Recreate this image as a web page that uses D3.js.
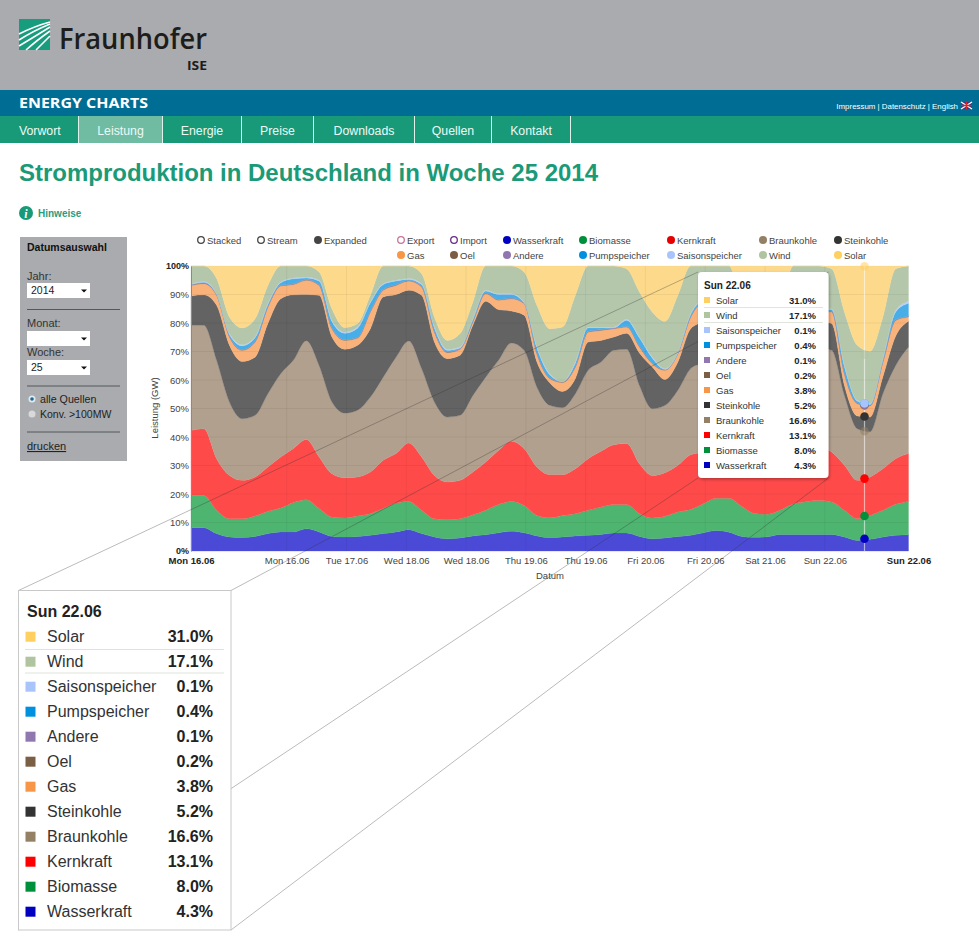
<!DOCTYPE html>
<html><head><meta charset="utf-8"><title>Stromproduktion in Deutschland in Woche 25 2014</title>
<script src="https://cdn.jsdelivr.net/npm/d3@7/dist/d3.min.js"></script>
<style>html,body{margin:0;padding:0;background:#fff;overflow:hidden}svg{display:block;font-family:"Liberation Sans",Arial,sans-serif}
.axis text{font-family:"Liberation Sans",Arial,sans-serif;font-size:9.5px;fill:#444}.axis .domain{stroke:#8a8a8a}.axis line{stroke:none}</style>
</head><body><svg id="c" width="979" height="950"></svg>
<script>
// time of every sample: hours since Mon 16.06 00:00, one every 3 hours (0..168)
const sampleHours=[0,3,6,9,12,15,18,21,24,27,30,33,36,39,42,45,48,51,54,57,60,63,66,69,72,75,78,81,84,87,90,93,96,99,102,105,108,111,114,117,120,123,126,129,132,135,138,141,144,147,150,153,156,159,162,165,168];
// upper edge of each stacked band, in percent
const wasserTop=[8.2,8.2,6.1,4.9,4.7,5.1,6.1,6.7,6.7,7.8,6.7,5.1,4.9,5.1,5.5,6.1,6.7,7.5,6.1,4.9,4.3,4.6,5.3,5.7,6.4,6.9,6.4,5.3,4.7,4.9,5.3,5.5,5.8,6.3,6.3,5.1,4.3,4.6,5.1,5.5,6.4,7.2,6.6,5.1,4.8,5.0,5.8,5.8,5.8,5.8,5.8,4.9,3.7,4.1,4.9,5.5,5.7];
const biomasseTop=[19.5,19.5,14.3,11.3,11.3,12.3,13.9,15.1,17,18,14.9,11.9,11.6,12.3,13.1,14.9,16.8,17.4,14.3,11.3,11,11.3,12.7,14.3,16.3,17.4,16,12.5,11.7,12.5,13.1,14.3,15.4,16.3,16.3,13.1,11.6,12.2,13.7,14.6,16.6,18.5,18.5,15.6,13.2,12.9,14.4,16.5,17.3,17.7,17.2,14.3,11.3,12.5,14.3,16.4,17.4];
const kernkraftTop=[42.3,42.9,32.4,26.5,24.8,26,29.5,33,36,39.1,33,27.1,25.7,26,27.7,31.8,34.2,37.9,33,26.5,24.2,24.8,27.7,31.2,35.3,38.5,35.9,29.5,26.8,26.8,28.9,32.4,35,37.3,37.7,30.6,26.5,27.5,30.1,33.8,34.7,37.2,37.8,33.7,28.4,27.3,30.2,33.7,35.4,36.5,34.7,30.1,24.8,26,28.9,32.4,34.2];
const braunkohleTop=[79.2,79.2,66.9,52.3,46.4,47.6,55.2,62.2,67,73.8,65.1,52.3,48.4,49.4,54,61,68,73.7,64,52.3,47,47.6,54.6,61,66.9,73,70.4,57.5,51.1,50.3,55.2,63.4,66.3,70.4,70.8,58.1,49.9,51.1,56.4,64,66.3,71.1,71,61.8,51.2,47.7,55.9,65.3,68.8,71.1,70.4,54.6,42.9,41.8,55.2,65.1,71.6];
const steinkohleTop=[89.5,89.9,86.2,72.2,66.5,68,79.8,88.5,89.9,90,89.7,75.1,70.8,72.2,78,89.1,90,91.5,89.7,73.3,67.5,68.7,79.2,87.6,84.7,84.2,82.7,66.3,59,56,60.5,73.3,73.9,75.1,76.4,69.5,64.6,60.2,66.3,78,80.4,82.2,85,84,82.8,80.5,79.3,78.1,79.3,80.5,79.8,58.1,47.4,47,61.1,75.4,80.6];
const gasTop=[93.2,93.8,89.7,75.1,70.4,73.3,85.6,93,93.5,95,93.2,78,73.9,74.7,83.9,91.5,93.2,94.7,92.6,76.8,69.6,70.8,80.4,90.3,88,88.5,86.8,69.2,60.5,59.1,64.6,76.8,77.4,78,78.6,71.6,65.7,63.4,69.2,82.1,86.8,86.3,88,87,85.5,85,83.4,82.8,83.4,84,83.9,62.2,51.7,50.9,66.3,80.9,82.1];
const saisonTop=[93.8,94.6,90.3,76.3,72.4,75.1,86.8,94.4,95.8,96.1,95,80.9,76.8,78.6,87.4,93.8,95,95.6,93.8,78.6,70.8,71.6,81.5,91.5,90.3,90.3,87.4,71.6,62.2,59.5,66.3,78.6,78.6,78.6,81.3,75.1,68.1,64,69.8,83.3,88,87.5,89,88,86.5,86,84.4,83.8,84.4,85,85,65.1,52.9,51.7,67.5,84.4,87.6];
const windTop=[100,100,95.6,82.1,78.3,81.5,93.2,100,100,100,97.9,85,78.4,79.8,89.7,100,100,100,97.3,82.1,73.9,76.3,87.4,100,100,100,97.9,86.2,78,78.6,89.7,100,100,100,99,90.9,83.9,80.6,89.7,100,100,100,100,86.3,80,79.3,87.3,100,100,100,99,83.9,72.2,70.1,82.1,99,100];
const solarTop=sampleHours.map(()=>100);
// thin bands, own share in percent
const oelShare=[0.2,0.2,0.2,0.2,0.2,0.2,0.2,0.2,0.2,0.2,0.2,0.2,0.2,0.2,0.2,0.2,0.2,0.2,0.2,0.2,0.2,0.2,0.2,0.2,0.2,0.2,0.2,0.2,0.2,0.2,0.2,0.2,0.2,0.2,0.2,0.2,0.2,0.2,0.2,0.2,0.2,0.2,0.2,0.2,0.2,0.2,0.2,0.2,0.2,0.2,0.2,0.2,0.2,0.2,0.2,0.2,0.2];
const andereShare=[0.1,0.1,0.1,0.1,0.1,0.1,0.1,0.1,0.1,0.1,0.1,0.1,0.1,0.1,0.1,0.1,0.1,0.1,0.1,0.1,0.1,0.1,0.1,0.1,0.1,0.1,0.1,0.1,0.1,0.1,0.1,0.1,0.1,0.1,0.1,0.1,0.1,0.1,0.1,0.1,0.1,0.1,0.1,0.1,0.1,0.1,0.1,0.1,0.1,0.1,0.1,0.1,0.1,0.1,0.1,0.1,0.1];
const saisonShare=[0.3,0.3,0.3,0.4,0.4,0.3,0.3,0.3,0.3,0.3,0.3,0.4,0.4,0.4,0.3,0.3,0.3,0.3,0.3,0.4,0.4,0.4,0.3,0.3,0.3,0.3,0.3,0.4,0.4,0.4,0.4,0.3,0.3,0.3,0.3,0.3,0.4,0.4,0.4,0.3,0.3,0.3,0.3,0.3,0.3,0.3,0.3,0.3,0.3,0.3,0.3,0.4,0.3,0.3,0.4,0.5,0.7];

const seriesNames=["Wasserkraft","Biomasse","Kernkraft","Braunkohle","Steinkohle","Gas","Oel","Andere","Pumpspeicher","Saisonspeicher","Wind","Solar"];
const areaColors=["#4a4ad6","#4eb570","#ff4a4a","#b2a08e","#636363","#f9b27a","#8f7862","#a78cc4","#47aee8","#b8cff9","#b4c7ab","#fcd98b"];
const swatchColors=["#0000c0","#00903b","#ff0000","#948065","#333333","#f79646","#7a5f45","#9077b0","#0090e0","#a9c4fa","#b0c4a0","#ffcf5f"];
const tipNames=["Solar","Wind","Saisonspeicher","Pumpspeicher","Andere","Oel","Gas","Steinkohle","Braunkohle","Kernkraft","Biomasse","Wasserkraft"];
const tipValues=[31.0,17.1,0.1,0.4,0.1,0.2,3.8,5.2,16.6,13.1,8.0,4.3];
const tipColors=["#ffcf5f","#b0c4a0","#a9c4fa","#0090e0","#9077b0","#7a5f45","#f79646","#333333","#948065","#ff0000","#00903b","#0000c0"];
const tipDate="Sun 22.06";
const markerHour=157.7;
const xTickHours=[0,22.4,36.4,50.4,64.4,78.4,92.4,106.4,120.4,134.4,148.4,168];
const xTickLabels=["Mon 16.06","Mon 16.06","Tue 17.06","Wed 18.06","Wed 18.06","Thu 19.06","Thu 19.06","Fri 20.06","Fri 20.06","Sat 21.06","Sun 22.06","Sun 22.06"];
const yTicks=[0,10,20,30,40,50,60,70,80,90,100];
const navLabels=["Vorwort","Leistung","Energie","Preise","Downloads","Quellen","Kontakt"];

const svg=d3.select("#c");
const R=(p,x,y,w,h,f)=>p.append("rect").attr("x",x).attr("y",y).attr("width",w).attr("height",h).attr("fill",f);
const T=(p,s,x,y,size,fill,o={})=>{const t=p.append("text").attr("x",x).attr("y",y).attr("font-size",size).attr("fill",fill).text(s);
 for(const k in o)t.attr(k,o[k]);return t;};

/* header */
R(svg,0,0,979,90,"#a9abae");R(svg,0,90,979,26,"#006e94");R(svg,0,116,979,27,"#189a78");
const logo=svg.append("g");R(logo,19,19,31,31,"#179c7d");
[[19,34,35,26,50,22],[19,40,33,31,50,24],[19,46,34,37,50,27],[26,50,36,41,50,31],[36,50,42,44,50,36]].forEach(a=>{
 logo.append("path").attr("d",`M${a[0]} ${a[1]}Q${a[2]} ${a[3]} ${a[4]} ${a[5]}`).attr("fill","none").attr("stroke","#fff").attr("stroke-width",1.6);});
T(svg,"Fraunhofer",59,49,29,"#1d1d1b",{"font-family":"Open Sans","font-weight":600,textLength:148,lengthAdjust:"spacingAndGlyphs"});
T(svg,"ISE",187,70,13,"#1d1d1b",{"font-family":"Open Sans","font-weight":700,textLength:20,lengthAdjust:"spacingAndGlyphs"});
T(svg,"ENERGY CHARTS",19,108,15,"#fff",{"font-family":"Open Sans","font-weight":700,textLength:129,lengthAdjust:"spacingAndGlyphs"});
T(svg,"Impressum | Datenschutz | English",958,108.5,7.9,"#fff",{"text-anchor":"end"});
R(svg,961,102,11,7,"#2b3f86");
svg.append("path").attr("d","M961 102L972 109M972 102L961 109").attr("stroke","#fff").attr("stroke-width",1.4);
svg.append("path").attr("d","M966.5 102V109M961 105.5H972").attr("stroke","#d8262c").attr("stroke-width",1.6);
R(svg,79,116,83,27,"#6fbca3");
const navEdges=[0,78,162,241,313,414,491,570];
navEdges.slice(1).forEach(x=>R(svg,x,116,1,27,"#dff1eb"));
navLabels.forEach((s,i)=>T(svg,s,i==0?19:(navEdges[i]+navEdges[i+1])/2+.5,134.5,12.3,"#eef8f5",{"text-anchor":i==0?"start":"middle"}));
T(svg,"Stromproduktion in Deutschland in Woche 25 2014",19,181,24,"#1b9a78",{"font-weight":700,textLength:579});
svg.append("circle").attr("cx",26).attr("cy",213).attr("r",7).attr("fill","#189a78");
T(svg,"i",26,217.5,12,"#fff",{"text-anchor":"middle","font-weight":700,"font-style":"italic","font-family":"Liberation Serif"});
T(svg,"Hinweise",38,216.5,10,"#2a9c7f",{"font-weight":700});

/* side panel */
const P=svg.append("g");R(P,20,237,107,224,"#a9abae");
T(P,"Datumsauswahl",27,251,10.5,"#111",{"font-weight":700});
const sel=(y,h,s)=>{R(P,27,y,63,h,"#fff");if(s)T(P,s,31,y+11,10.5,"#222");P.append("path").attr("d",`M81 ${y+6.5}h6l-3 3z`).attr("fill","#111");};
T(P,"Jahr:",27,280,11,"#333");sel(283,15,"2014");
T(P,"Monat:",27,327,11,"#333");sel(331,15,"");
T(P,"Woche:",27,356,11,"#333");sel(360,15,"25");
[309.5,386,432].forEach(y=>P.append("line").attr("x1",27).attr("x2",120).attr("y1",y).attr("y2",y).attr("stroke","#55585a"));
P.append("circle").attr("cx",32).attr("cy",399).attr("r",3.5).attr("fill","#dfeaf0");
P.append("circle").attr("cx",32).attr("cy",399).attr("r",1.8).attr("fill","#1e6a94");
P.append("circle").attr("cx",32).attr("cy",414).attr("r",3.5).attr("fill","#d9d9d9");
T(P,"alle Quellen",40,403,10.7,"#222");T(P,"Konv. >100MW",40,418,10.5,"#222");
T(P,"drucken",27,450,11,"#222",{"text-decoration":"underline"});

/* chart */
const x=d3.scaleLinear().domain([0,168]).range([191,908.5]);
const y=d3.scaleLinear().domain([0,100]).range([551,266]);
const g=svg.append("g");
const oelTop=gasTop.map((v,i)=>v+oelShare[i]);
const andereTop=oelTop.map((v,i)=>v+andereShare[i]);
const pumpTop=saisonTop.map((v,i)=>Math.max(v-saisonShare[i],andereTop[i]));
const saisonEdge=saisonTop.map((v,i)=>Math.max(v,pumpTop[i]));
const windEdge=windTop.map((v,i)=>Math.max(v,saisonEdge[i]));
const tops=[wasserTop,biomasseTop,kernkraftTop,braunkohleTop,steinkohleTop,gasTop,oelTop,andereTop,pumpTop,saisonEdge,windEdge,solarTop];
tops.forEach((t,k)=>{const low=k?tops[k-1]:null;
 const area=d3.area().curve(d3.curveMonotoneX).x((d,i)=>x(sampleHours[i])).y1(d=>y(d)).y0((d,i)=>y(low?low[i]:0));
 g.append("path").datum(t).attr("d",area).attr("fill",areaColors[k]).attr("stroke",areaColors[k]).attr("stroke-width",.3);});
// faint grid
xTickHours.slice(1,-1).forEach(h=>g.append("line").attr("x1",x(h)).attr("x2",x(h)).attr("y1",y(100)).attr("y2",y(0)).attr("stroke","#000").attr("stroke-opacity",.05));
yTicks.slice(1,-1).forEach(v=>g.append("line").attr("x1",x(0)).attr("x2",x(168)).attr("y1",y(v)).attr("y2",y(v)).attr("stroke","#000").attr("stroke-opacity",.05));

const ay=g.append("g").attr("class","axis").attr("transform","translate(191,0)").call(d3.axisLeft(y).tickValues(yTicks).tickFormat(d=>d+"%").tickSize(0).tickPadding(2));
ay.selectAll("text").style("font-weight",d=>(d==0||d==100)?700:400).style("fill",d=>(d==0||d==100)?"#222":"#444").style("font-size",d=>(d==0||d==100)?"9px":"9.5px");
const ax=g.append("g").attr("class","axis").attr("transform","translate(0,551)").call(d3.axisBottom(x).tickValues(xTickHours).tickFormat((d,i)=>xTickLabels[i]).tickSize(0).tickPadding(6));
ax.select(".domain").remove();
ax.selectAll("text").style("font-weight",(d,i)=>(i==0||i==11)?700:400).style("fill",(d,i)=>(i==0||i==11)?"#222":"#444");
T(g,"Datum",550,578.5,9.5,"#444",{"text-anchor":"middle"});
T(g,"Leistung (GW)",0,0,9.5,"#444",{"text-anchor":"middle",transform:"translate(158,408) rotate(-90)"});

/* crosshair and markers for the tooltip's day */
g.append("line").attr("x1",x(markerHour)).attr("x2",x(markerHour)).attr("y1",y(100)).attr("y2",y(0)).attr("stroke","#fff").attr("stroke-opacity",.55).attr("stroke-width",1.2);
let acc=0;const markerTops=tipValues.slice().reverse().map(v=>acc+=v);
markerTops.forEach((v,k)=>g.append("circle").attr("cx",x(markerHour)).attr("cy",y(v)).attr("r",4.3).attr("fill",swatchColors[k]).attr("fill-opacity",[10,3,11].includes(k)?.55:1));

/* legend */
const L=svg.append("g");
const legendModes=[["Stacked",201,0],["Stream",261,0],["Expanded",318,1]];
legendModes.forEach(d=>{L.append("circle").attr("cx",d[1]).attr("cy",240).attr("r",3.3).attr("fill",d[2]?"#444":"#fff").attr("stroke","#444").attr("stroke-width",1.3);
 T(L,d[0],d[1]+6,243.5,9.5,"#444");});
const legendCols=[401,454,507,583,671,763,838];
[["Export",0,0,"#c9739a",1],["Import",1,0,"#6b2a86",1],["Wasserkraft",2,0,"#0000c0"],["Biomasse",3,0,"#00903b"],["Kernkraft",4,0,"#e60000"],["Braunkohle",5,0,"#948065"],["Steinkohle",6,0,"#333333"],
 ["Gas",0,1,"#f79646"],["Oel",1,1,"#7a5f45"],["Andere",2,1,"#9077b0"],["Pumpspeicher",3,1,"#0090e0"],["Saisonspeicher",4,1,"#a9c4fa"],["Wind",5,1,"#b0c4a0"],["Solar",6,1,"#ffcf5f"]].forEach(d=>{
 const cx=legendCols[d[1]],cy=240+d[2]*15;
 L.append("circle").attr("cx",cx).attr("cy",cy).attr("r",d[4]?3.3:4).attr("fill",d[4]?"#fff":d[3]).attr("stroke",d[4]?d[3]:"none").attr("stroke-width",1.3);
 T(L,d[0],cx+6,cy+3.5,9.5,"#444");});

/* callout lines joining inset and tooltip */
const tipBox={x:698,y:272,w:130.5,h:206},insetBox={x:18.5,y:590.5,w:212.5,h:339.5};
[[0,0],[1,0],[0,1],[1,1]].forEach(c=>svg.append("line").attr("x1",insetBox.x+c[0]*insetBox.w).attr("y1",insetBox.y+c[1]*insetBox.h).attr("x2",tipBox.x+c[0]*tipBox.w).attr("y2",tipBox.y+c[1]*tipBox.h).attr("stroke","#333").attr("stroke-opacity",.42).attr("stroke-width",.8));

/* tooltip */
const defs=svg.append("defs");const f=defs.append("filter").attr("id","sh").attr("x","-10%").attr("y","-10%").attr("width","120%").attr("height","120%");
f.append("feDropShadow").attr("dx",1).attr("dy",1.5).attr("stdDeviation",1.5).attr("flood-color","#000").attr("flood-opacity",.3);
const tip=svg.append("g");
tip.append("rect").attr("x",tipBox.x).attr("y",tipBox.y).attr("width",tipBox.w).attr("height",tipBox.h).attr("rx",4).attr("fill","#fff").attr("filter","url(#sh)");
T(tip,tipDate,704,289,10,"#222",{"font-weight":700});
tipNames.forEach((n,i)=>{const cy=300+i*15;R(tip,704,cy-3,6,6,tipColors[i]);
 T(tip,n,716,cy+3.5,9.5,"#333");T(tip,tipValues[i].toFixed(1)+"%",816,cy+3.5,9.5,"#222",{"font-weight":700,"text-anchor":"end"});});
[307.5,322.5].forEach(yy=>tip.append("line").attr("x1",704).attr("x2",823).attr("y1",yy).attr("y2",yy).attr("stroke","#dfe5da"));

/* enlarged inset */
const inset=svg.append("g");
inset.append("rect").attr("x",insetBox.x).attr("y",insetBox.y).attr("width",insetBox.w).attr("height",insetBox.h).attr("fill","#fff").attr("stroke","#c8c8c8").attr("stroke-width",1);
T(inset,tipDate,27,617,16,"#222",{"font-weight":700});
tipNames.forEach((n,i)=>{const cy=636.7+i*25;R(inset,25.5,cy-5,10,10,tipColors[i]);
 T(inset,n,47,cy+5.5,16,"#333");T(inset,tipValues[i].toFixed(1)+"%",213,cy+5.5,16,"#222",{"font-weight":700,"text-anchor":"end"});});
[649.5,673].forEach(yy=>inset.append("line").attr("x1",25).attr("x2",224).attr("y1",yy).attr("y2",yy).attr("stroke","#dfe3dc").attr("stroke-width",1.2));
</script></body></html>
